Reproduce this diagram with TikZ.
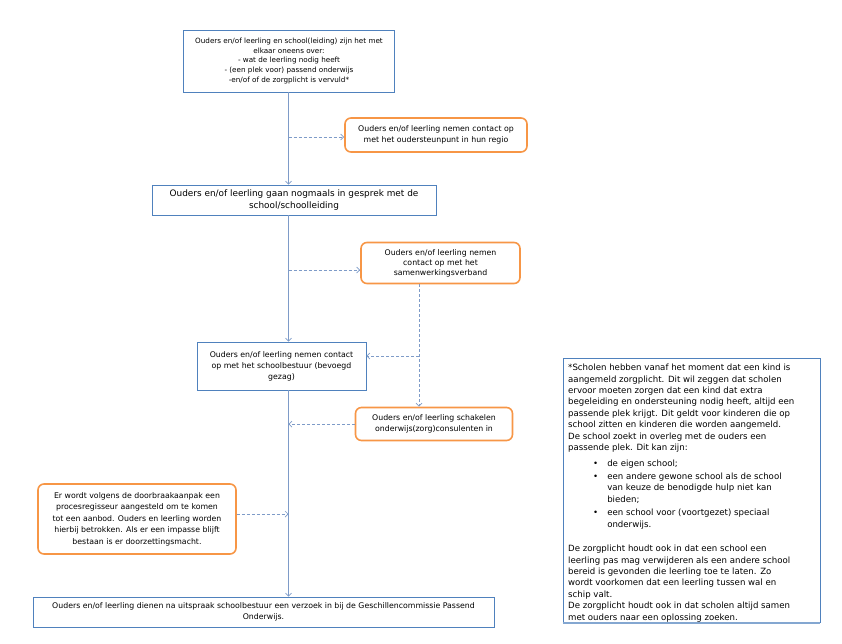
\documentclass[tikz,border=0pt]{standalone}
\usepackage{fontspec}
\setmainfont{DejaVu Sans}
\usetikzlibrary{arrows.meta}
\usetikzlibrary{calc}

\definecolor{boxblue}{HTML}{4F81BD}
\definecolor{lineblue}{HTML}{7E9BC8}
\definecolor{boxorange}{HTML}{F79646}

\begin{document}
\begin{tikzpicture}[x=1pt, y=-1pt,
    stap/.style={draw=boxblue, line width=0.8pt, fill=white, align=center, inner sep=2pt, font=\fontsize{7.8}{11}\selectfont},
    hulp/.style={draw=boxorange, line width=1.6pt, rounded corners=6pt, fill=white, align=center, inner sep=2pt, font=\fontsize{7.8}{10.8}\selectfont},
    flow/.style={draw=lineblue, line width=0.7pt, -{Straight Barb[length=3pt,width=6pt]}},
    side/.style={flow, dash pattern=on 3pt off 2pt},
    notetext/.style={anchor=north west, align=left, inner sep=0pt, font=\fontsize{8.6}{11.4}\selectfont}]
		\useasboundingbox (0,0) rectangle (842,643);
		% the steps
		\node[stap, minimum width=211pt, minimum height=62pt, font=\fontsize{7.2}{9.8}\selectfont] (oneens) at (289,61) {Ouders en/of leerling en school(leiding) zijn het met\\ elkaar oneens over:\\ - wat de leerling nodig heeft\\ - (een plek voor) passend onderwijs\\ -en/of of de zorgplicht is vervuld*};
		\node[stap, minimum width=284pt, minimum height=30pt, font=\fontsize{8.9}{11.5}\selectfont] (gesprek) at (294,200) {Ouders en/of leerling gaan nogmaals in gesprek met de\\ school/schoolleiding};
		\node[stap, minimum width=169pt, minimum height=48pt] (bestuur) at (281.5,366) {Ouders en/of leerling nemen contact\\ op met het schoolbestuur (bevoegd\\ gezag)};
		\node[stap, minimum width=461pt, minimum height=30pt, font=\fontsize{7.8}{10.5}\selectfont] (geschil) at (263.5,612) {Ouders en/of leerling dienen na uitspraak schoolbestuur een verzoek in bij de Geschillencommissie Passend\\ Onderwijs.};
		% the help boxes
		\node[hulp, minimum width=182pt, minimum height=34pt, font=\fontsize{7.8}{11.5}\selectfont] (oudersteun) at (436,135) {Ouders en/of leerling nemen contact op\\ met het oudersteunpunt in hun regio};
		\node[hulp, minimum width=159pt, minimum height=41pt, font=\fontsize{7.8}{10}\selectfont] (swv) at (440.5,263) {Ouders en/of leerling nemen\\ contact op met het\\ samenwerkingsverband};
		\node[hulp, minimum width=157pt, minimum height=33pt] (consulent) at (434,424) {Ouders en/of leerling schakelen\\ onderwijs(zorg)consulenten in};
		\node[hulp, minimum width=198pt, minimum height=70pt, font=\fontsize{7.8}{11.5}\selectfont] (doorbraak) at (137,519) {Er wordt volgens de doorbraakaanpak een\\ procesregisseur aangesteld om te komen\\ tot een aanbod. Ouders en leerling worden\\ hierbij betrokken. Als er een impasse blijft\\ bestaan is er doorzettingsmacht.};
		% the lines
		\coordinate (spine) at (288.5,0);
		\coordinate (zij) at (419,0);
		\draw[flow] (oneens.south -| spine) -- (gesprek.north -| spine);
		\draw[flow] (gesprek.south -| spine) -- (bestuur.north -| spine);
		\draw[flow] (bestuur.south -| spine) -- (geschil.north -| spine);
		\coordinate (oudersteunin) at ($(oudersteun.west)+(0,2)$);
		\draw[side] (spine |- oudersteunin) -- (oudersteunin);
		\coordinate (swvin) at ($(swv.west)+(0,7)$);
		\draw[side] (spine |- swvin) -- (swvin);
		\draw[side] (swv.south -| zij) -- (consulent.north -| zij);
		\coordinate (bestuurin) at ($(bestuur.east)+(0,-10)$);
		\draw[side] (zij |- bestuurin) -- (bestuurin);
		\draw[side] (consulent.west) -- (spine |- consulent.west);
		\coordinate (doorbraakuit) at ($(doorbraak.east)+(0,-5)$);
		\draw[side] (doorbraakuit) -- (spine |- doorbraakuit);
		% the note on the right
		\node[draw=boxblue, line width=0.8pt, minimum width=257pt, minimum height=264pt] (toelichting) at (691.5,490) {};
		\draw[boxblue!70, line width=1.6pt] ([yshift=-0.8pt]toelichting.south west) -- ([yshift=-0.8pt]toelichting.south east);
		\node[notetext] (zorgplicht) at (568,364) {*Scholen hebben vanaf het moment dat een kind is\\ aangemeld zorgplicht. Dit wil zeggen dat scholen\\ ervoor moeten zorgen dat een kind dat extra\\ begeleiding en ondersteuning nodig heeft, altijd een\\ passende plek krijgt. Dit geldt voor kinderen die op\\ school zitten en kinderen die worden aangemeld.\\ De school zoekt in overleg met de ouders een\\ passende plek. Dit kan zijn:};
		\node[notetext] (keuzes) at (593,458) {\begin{tabular}{@{}l@{\hspace{9pt}}l@{}}
			\textbullet & de eigen school;\\[2pt]
			\textbullet & een andere gewone school als de school\\
			 & van keuze de benodigde hulp niet kan\\
			 & bieden;\\[2pt]
			\textbullet & een school voor (voortgezet) speciaal\\
			 & onderwijs.
		\end{tabular}};
		\node[notetext] (verwijderen) at (568,545) {De zorgplicht houdt ook in dat een school een\\ leerling pas mag verwijderen als een andere school\\ bereid is gevonden die leerling toe te laten. Zo\\ wordt voorkomen dat een leerling tussen wal en\\ schip valt.};
		\node[notetext] (samen) at (568,602) {De zorgplicht houdt ook in dat scholen altijd samen\\ met ouders naar een oplossing zoeken.};
	\end{tikzpicture}
\end{document}
